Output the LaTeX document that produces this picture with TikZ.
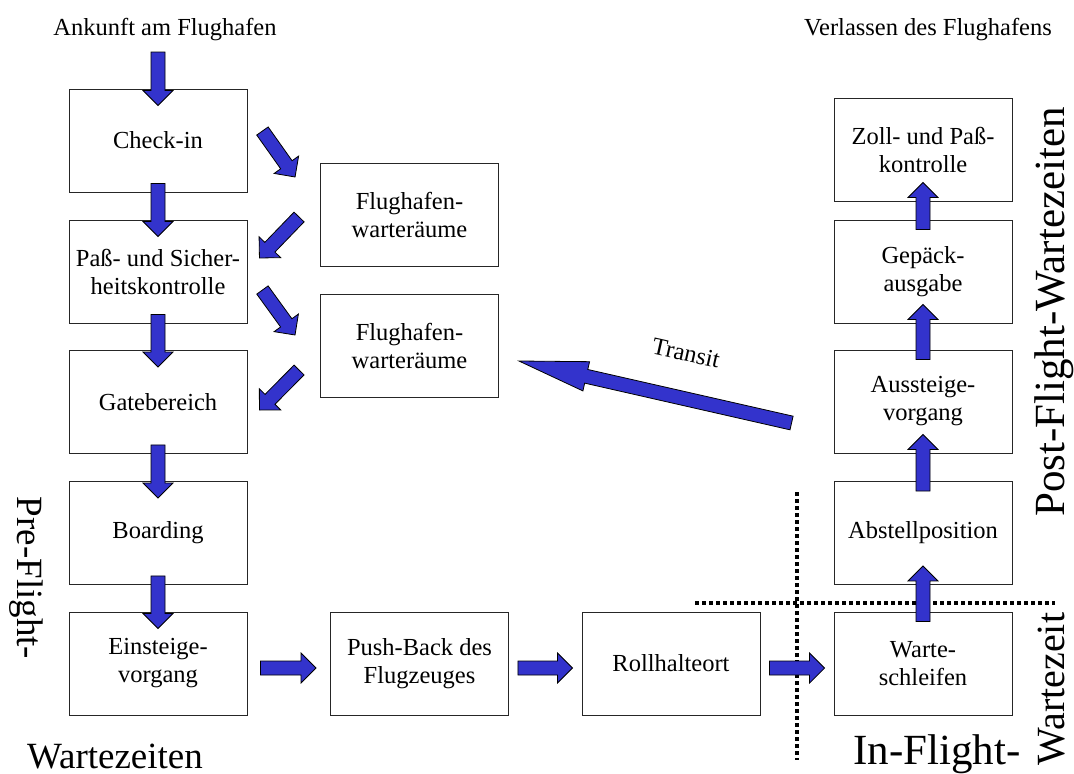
\documentclass[tikz,border=0pt]{standalone}
\usepackage{fontspec}
\setmainfont{Liberation Serif}
\usetikzlibrary{calc}
\definecolor{arrowblue}{RGB}{51,51,204}
\newcommand\diagboxfont{\fontsize{24.5}{28}\selectfont}
\newcommand\diagbigfont{\fontsize{37}{42}\selectfont}
\newcommand\diaglargefont{\fontsize{40}{45}\selectfont}
\newcommand\diaghugefont{\fontsize{43}{48}\selectfont}
% block arrow from #2 (tail) to #3 (tip); #1 = head length
\newcommand\blockarrow[3][15pt]{%
  \path[blockarrow] let \p1=(#2), \p2=(#3), \n1={atan2(\y2-\y1,\x2-\x1)} in
    ($(\p1)+(\n1+90:7pt)$)
    -- ($(\p2)!#1!(\p1)+(\n1+90:7pt)$)
    -- ($(\p2)!#1!(\p1)+(\n1+90:15pt)$)
    -- (\p2)
    -- ($(\p2)!#1!(\p1)+(\n1-90:15pt)$)
    -- ($(\p2)!#1!(\p1)+(\n1-90:7pt)$)
    -- ($(\p1)+(\n1-90:7pt)$) -- cycle;
}
\begin{document}
\begin{tikzpicture}[x=1pt,y=-1pt,
  box/.style={draw=black!85, line width=0.9pt, fill=white,
    minimum width=178pt, minimum height=103pt, inner sep=2pt,
    align=center, font=\diagboxfont},
  blockarrow/.style={draw=black, line width=0.8pt, fill=arrowblue, line join=miter},
  toplabel/.style={font=\diagboxfont, inner sep=0pt, anchor=base},
  biglabel/.style={font=\diagbigfont, inner sep=0pt, anchor=base},
  largelabel/.style={font=\diaglargefont, inner sep=0pt, anchor=base},
  hugelabel/.style={font=\diaghugefont, inner sep=0pt, anchor=base},
  sepline/.style={line width=3.5pt, dash pattern=on 4pt off 3pt}]
\useasboundingbox (0,0) rectangle (1074,774);
\fill[white] (0,0) rectangle (1074,774);

% captions at the top
\node[toplabel] (ankunft) at (165,35) {Ankunft am Flughafen};
\node[toplabel] (verlassen) at (928,35) {Verlassen des Flughafens};
\coordinate (arrive) at (158,52);

% departure column
\node[box] (check) at (158,140.5) {Check-in};
\node[box] (pass)  at (158,271.5) {Paß- und Sicher-\\heitskontrolle};
\node[box] (gate)  at (158,402)   {Gatebereich};
\node[box] (board) at (158,533)   {Boarding};
\node[box] (ein)   at (158,663.5) {Einsteige-\\vorgang};

% waiting rooms
\node[box] (fw1) at (409.5,215) {Flughafen-\\warteräume};
\node[box] (fw2) at (409.5,346) {Flughafen-\\warteräume};

% ground movements
\node[box] (push)  at (419.5,663.5) {Push-Back des\\Flugzeuges};
\node[box] (roll)  at (671,663.5)   {Rollhalteort};
\node[box] (warte) at (923,663.5)   {Warte-\\schleifen};

% arrival column
\node[box] (abst) at (923,533)   {Abstellposition};
\node[box] (aus)  at (923,401.5) {Aussteige-\\vorgang};
\node[box] (gep)  at (923,271.5) {Gepäck-\\ausgabe};
\node[box] (zoll) at (923,149.5) {Zoll- und Paß-\\kontrolle};

% phase separators
\draw[sepline] (695,603) -- (1055,603);
\draw[sepline] (797,492) -- (797,760);

% flow downwards
\blockarrow{arrive}{$(check.north)+(0,17)$}
\blockarrow{$(check.south)+(0,-9)$}{$(pass.north)+(0,17)$}
\blockarrow{$(pass.south)+(0,-9)$}{$(gate.north)+(0,17)$}
\blockarrow{$(gate.south)+(0,-9)$}{$(board.north)+(0,17)$}
\blockarrow{$(board.south)+(0,-9)$}{$(ein.north)+(0,17)$}

% detours through the waiting rooms
\blockarrow{$(check.east)+(15,-9.5)$}{$(fw1.west)+(-25,-38)$}
\blockarrow{$(fw1.west)+(-21,2)$}{$(pass.east)+(12,-13.5)$}
\blockarrow{$(pass.east)+(15,18.5)$}{$(fw2.west)+(-25,-11)$}
\blockarrow{$(fw2.west)+(-21,24)$}{$(gate.east)+(12,8)$}

% flow to the right
\blockarrow{$(ein.east)+(13,4.5)$}{$(push.west)+(-14,4.5)$}
\blockarrow{$(push.east)+(9,4.5)$}{$(roll.west)+(-9,4.5)$}
\blockarrow{$(roll.east)+(9,4.5)$}{$(warte.west)+(-9,4.5)$}

% flow upwards
\blockarrow{$(warte.north)+(0,10)$}{$(abst.south)+(0,-19)$}
\blockarrow{$(abst.north)+(0,10)$}{$(aus.south)+(0,-19)$}
\blockarrow{$(aus.north)+(0,10)$}{$(gep.south)+(0,-19)$}
\blockarrow{$(gep.north)+(0,10)$}{$(zoll.south)+(0,-19)$}

% transit passengers
\blockarrow[69pt]{$(aus.west)+(-42,21.5)$}{$(fw2.east)+(20,15)$}
\node[font=\diagboxfont, inner sep=0pt, rotate=-12.7] (transit) at (686,353) {Transit};

% phase labels
\node[biglabel, rotate=-90] (pre) at (17,578) {Pre-Flight-};
\node[biglabel] (prew) at (115,768) {Wartezeiten};
\node[hugelabel] (inf) at (937,764) {In-Flight-};
\node[largelabel, rotate=90] (infw) at (1064,689) {Wartezeit};
\node[hugelabel, rotate=90] (post) at (1064,312) {Post-Flight-Wartezeiten};
\end{tikzpicture}
\end{document}
